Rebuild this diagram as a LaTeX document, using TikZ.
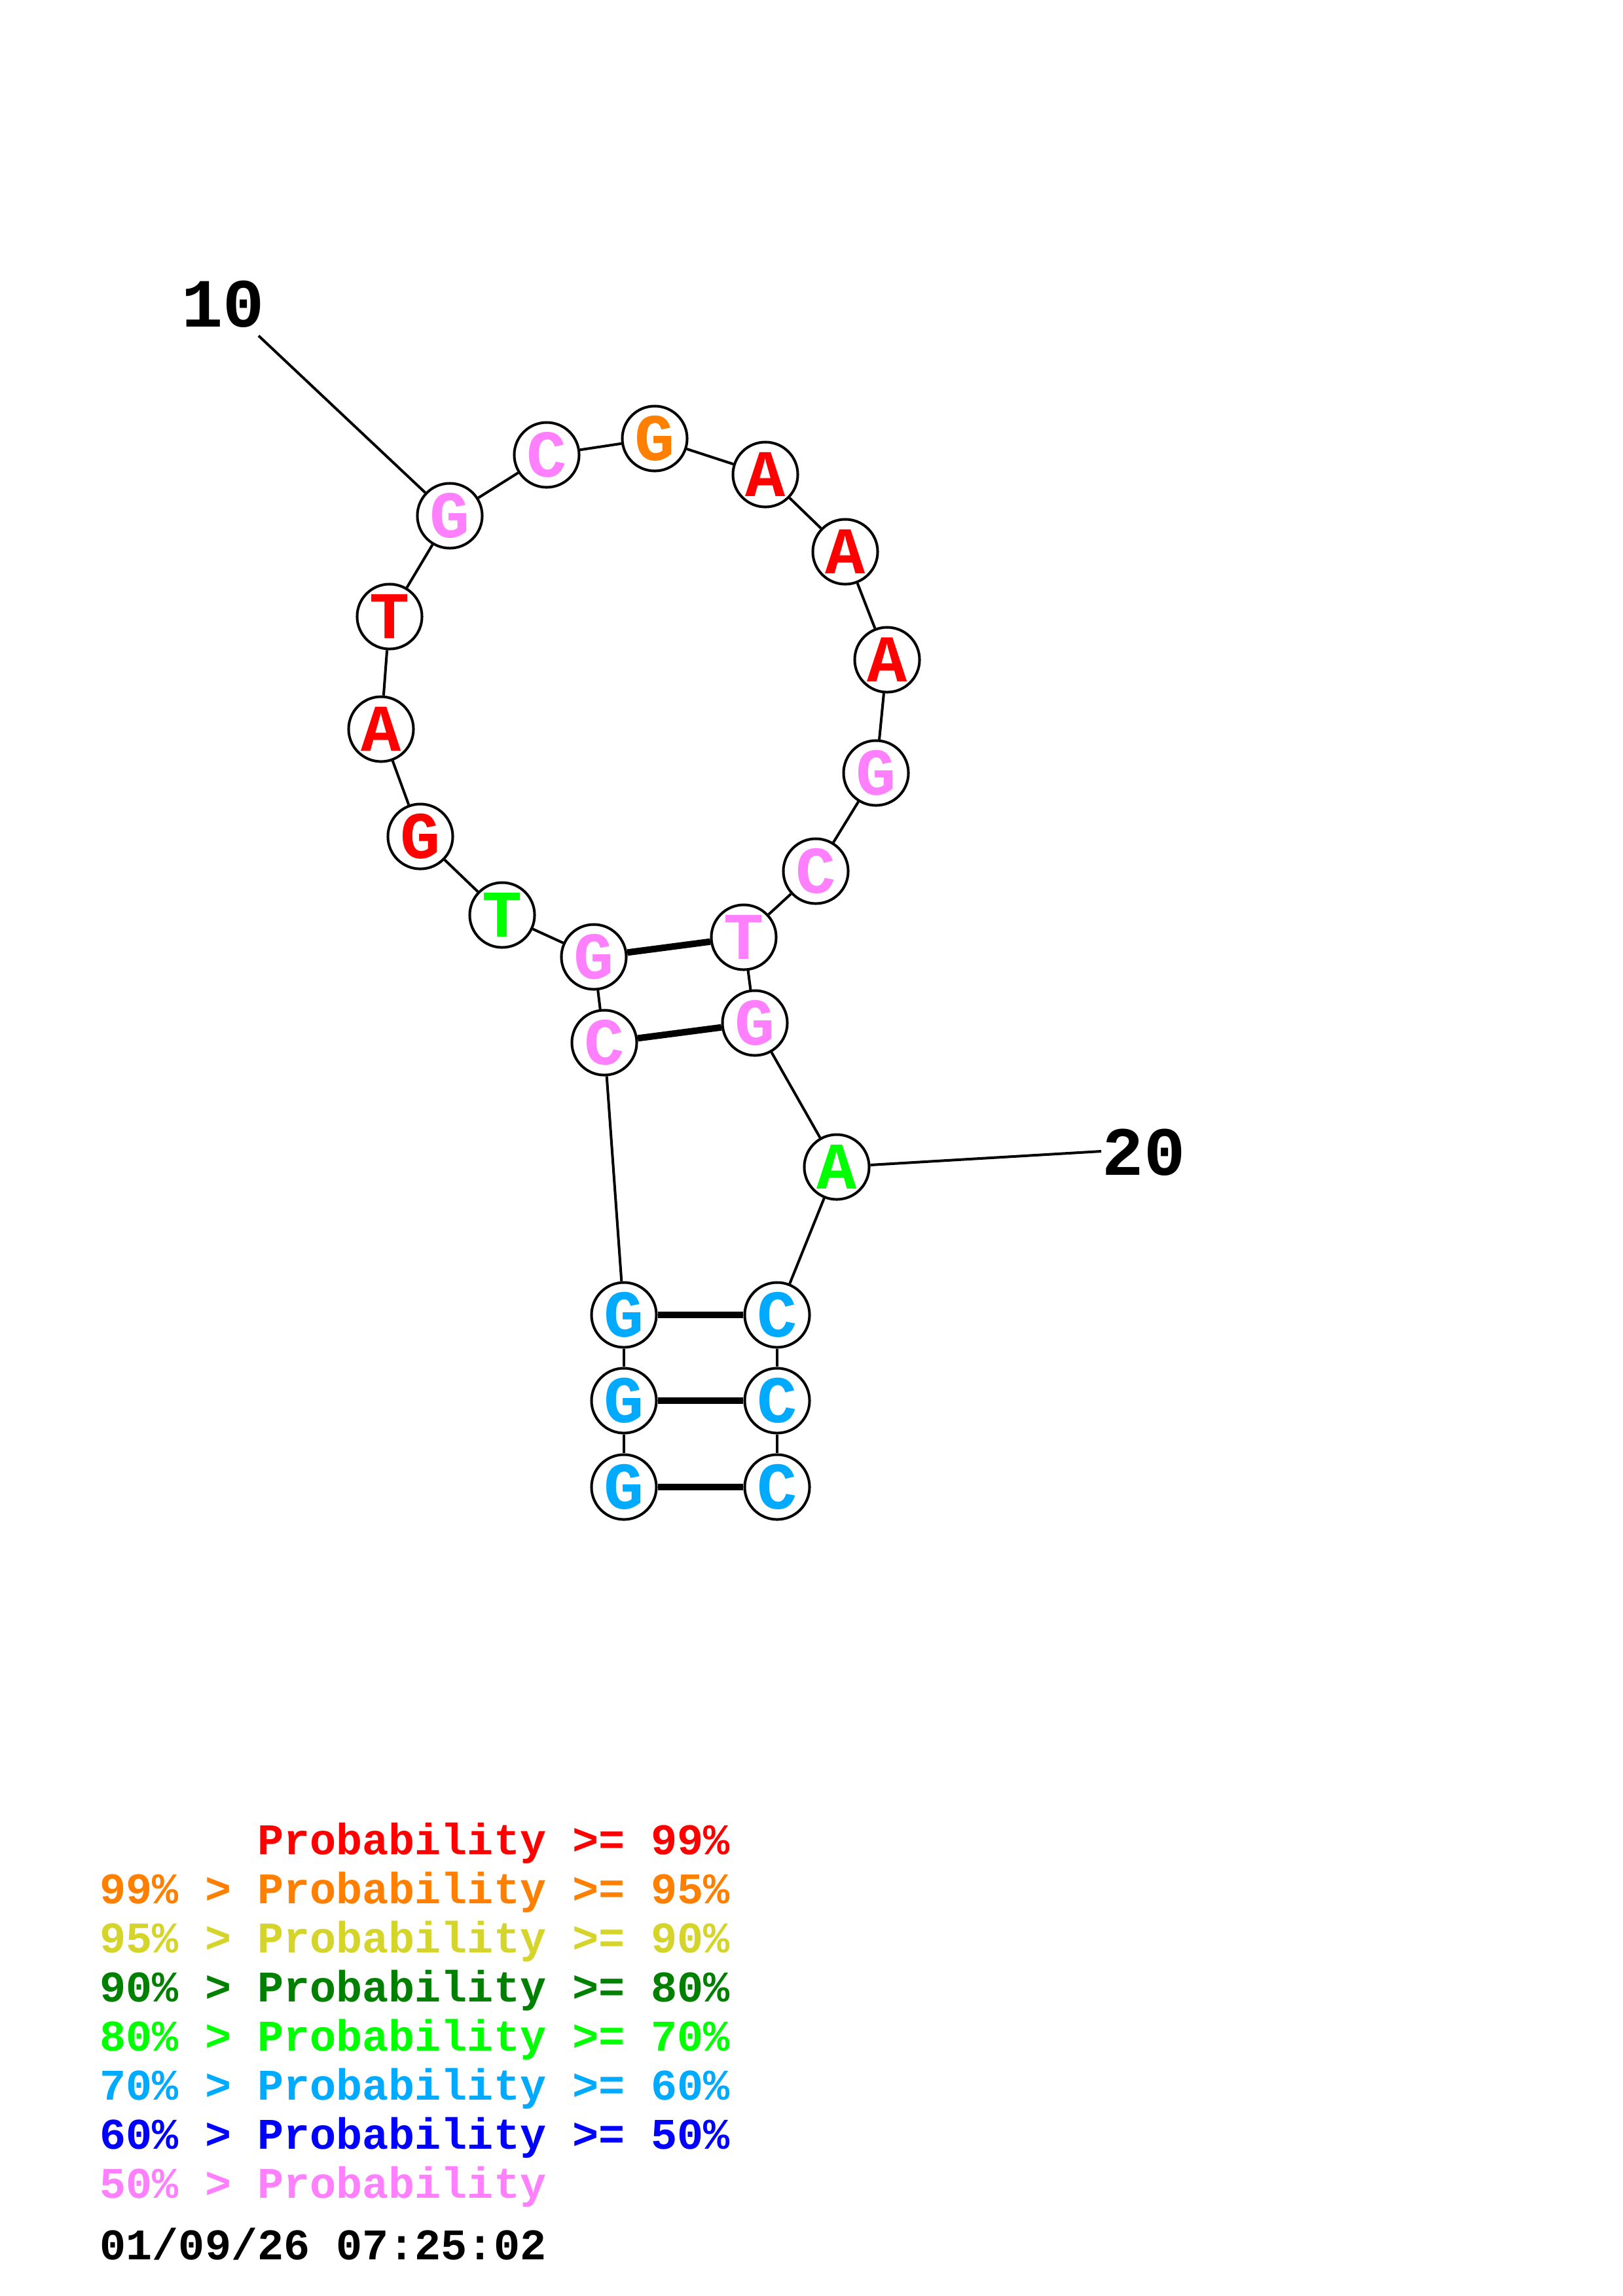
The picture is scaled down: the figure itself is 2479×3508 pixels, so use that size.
\documentclass[tikz,border=0pt]{standalone}
\usepackage{fontspec}
\newfontfamily\cour{Liberation Mono}
\definecolor{pRed}{RGB}{255,0,0}
\definecolor{pOrange}{RGB}{255,128,0}
\definecolor{pYellow}{RGB}{212,212,42}
\definecolor{pDkGreen}{RGB}{0,128,0}
\definecolor{pGreen}{RGB}{0,255,0}
\definecolor{pSky}{RGB}{0,170,255}
\definecolor{pBlue}{RGB}{0,0,255}
\definecolor{pPink}{RGB}{255,128,255}
\tikzset{
  nt/.style={circle, draw=black, line width=1.14pt, fill=white, minimum size=0.99cm, inner sep=0pt,
    font=\cour\bfseries\fontsize{29pt}{29pt}\selectfont},
  bb/.style={line width=1.14pt},
  bp/.style={line width=2.85pt},
  numlab/.style={inner sep=0pt, font=\cour\bfseries\fontsize{30pt}{30pt}\selectfont},
  leg/.style={anchor=base west, inner sep=0pt, font=\cour\bfseries\fontsize{19pt}{19pt}\selectfont},
}
\begin{document}
\begin{tikzpicture}[x=0.01cm,y=-0.01cm]
\useasboundingbox (0,0) rectangle (2479,3508);
\fill[white] (0,0) rectangle (2479,3508);
% nucleotides
\node[nt,text=pSky]  (n1)  at (953,2272) {G};
\node[nt,text=pSky]  (n2)  at (953,2140) {G};
\node[nt,text=pSky]  (n3)  at (953,2009) {G};
\node[nt,text=pPink] (n4)  at (923,1593) {C};
\node[nt,text=pPink] (n5)  at (907,1462) {G};
\node[nt,text=pGreen] (n6) at (767,1398) {T};
\node[nt,text=pRed]  (n7)  at (642,1278) {G};
\node[nt,text=pRed]  (n8)  at (582,1114) {A};
\node[nt,text=pRed]  (n9)  at (595,942) {T};
\node[nt,text=pPink] (n10) at (687,788) {G};
\node[nt,text=pPink] (n11) at (835,695) {C};
\node[nt,text=pOrange] (n12) at (1000,670) {G};
\node[nt,text=pRed]  (n13) at (1169,725) {A};
\node[nt,text=pRed]  (n14) at (1291,843) {A};
\node[nt,text=pRed]  (n15) at (1355,1008) {A};
\node[nt,text=pPink] (n16) at (1338,1181) {G};
\node[nt,text=pPink] (n17) at (1246,1331) {C};
\node[nt,text=pPink] (n18) at (1136,1432) {T};
\node[nt,text=pPink] (n19) at (1153,1563) {G};
\node[nt,text=pGreen] (n20) at (1278,1783) {A};
\node[nt,text=pSky]  (n21) at (1187,2009) {C};
\node[nt,text=pSky]  (n22) at (1187,2140) {C};
\node[nt,text=pSky]  (n23) at (1187,2272) {C};
% backbone
\foreach \a/\b in {1/2,2/3,3/4,4/5,5/6,6/7,7/8,8/9,9/10,10/11,11/12,12/13,13/14,14/15,15/16,16/17,17/18,18/19,19/20,20/21,21/22,22/23}
  \draw[bb] (n\a) -- (n\b);
% pairs
\foreach \a/\b in {1/23,2/22,3/21,4/19,5/18}
  \draw[bp] (n\a) -- (n\b);
% numbering labels
\node[numlab] (l10) at (341,465) {10};
\coordinate (c10) at (395,513);
\draw[bb] (c10) -- (n10);
\node[numlab] (l20) at (1747,1761) {20};
\coordinate (c20) at (1682,1759);
\draw[bb] (n20) -- (c20);
% legend
\node[leg,text=pRed]     (g1) at (152,2833) {\hphantom{99\% > }Probability >= 99\%};
\node[leg,text=pOrange]  (g2) at (152,2908) {99\% > Probability >= 95\%};
\node[leg,text=pYellow]  (g3) at (152,2983) {95\% > Probability >= 90\%};
\node[leg,text=pDkGreen] (g4) at (152,3058) {90\% > Probability >= 80\%};
\node[leg,text=pGreen]   (g5) at (152,3133) {80\% > Probability >= 70\%};
\node[leg,text=pSky]     (g6) at (152,3208) {70\% > Probability >= 60\%};
\node[leg,text=pBlue]    (g7) at (152,3283) {60\% > Probability >= 50\%};
\node[leg,text=pPink]    (g8) at (152,3358) {50\% > Probability};
\node[leg,text=black]    (g9) at (152,3452) {01/09/26 07:25:02};
\end{tikzpicture}
\end{document}
